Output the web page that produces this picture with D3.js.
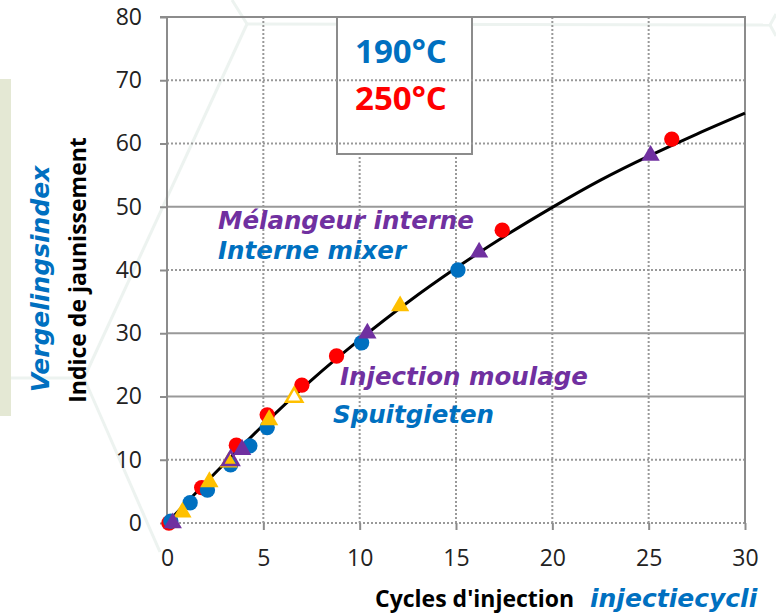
<!DOCTYPE html>
<html>
<head>
<meta charset="utf-8">
<script src="https://cdn.jsdelivr.net/npm/d3@7/dist/d3.min.js"></script>
<style>
  body { margin: 0; background: #fff; }
  svg { display: block; font-family: 'Open Sans', sans-serif; }
</style>
</head>
<body>
<svg width="776" height="616"></svg>
<script>
// trend line
const curveX = [0, 2.5, 5, 7.5, 10, 12.5, 15, 17.5, 20, 22.5, 25, 27.5, 30];
const curveY = [0, 7.9, 15.5, 22.6, 29.0, 34.9, 40.3, 45.3, 49.9, 54.2, 58.0, 61.5, 64.8];

// 250°C, circles
const redX = [0.1, 1.8, 3.6, 5.2, 7.0, 8.8, 17.4, 26.2];
const redY = [0, 5.6, 12.3, 17.1, 21.8, 26.4, 46.3, 60.7];
// 190°C, circles
const blueX = [0.2, 1.2, 2.1, 3.3, 4.3, 5.2, 10.1, 15.1];
const blueY = [0.3, 3.2, 5.2, 9.2, 12.2, 15.1, 28.5, 40.0];
// triangles
const yellowX = [0.8, 2.2, 3.2, 5.3, 12.1];
const yellowY = [1.7, 6.5, 9.6, 16.3, 34.3];
const yellowOpenX = [6.6];
const yellowOpenY = [19.9];
const purpleX = [0.3, 3.9, 10.4, 16.2, 25.1];
const purpleY = [0, 11.6, 30.0, 42.8, 58.1];
const purpleOpenX = [3.3];
const purpleOpenY = [9.9];

const xTicks = [0, 5, 10, 15, 20, 25, 30];
const yTicks = [0, 10, 20, 30, 40, 50, 60, 70, 80];
const legendLabels = ['190°C', '250°C'];

const BLUE = '#0070c0', RED = '#ff0000', PURPLE = '#7030a0', YELLOW = '#ffc000';
const GRID = '#999';
const ITALIC_FONT = "'DejaVu Sans', sans-serif";

const svg = d3.select('svg');
const x = d3.scaleLinear().domain([0, 30]).range([167, 745]);
const y = d3.scaleLinear().domain([0, 80]).range([523, 17]);

// faint slide decoration behind everything
const deco = svg.append('g')
  .attr('fill', 'none')
  .attr('stroke', '#edf3f0')
  .attr('stroke-width', 3);
[
  [[0, 378], [84, 378]],
  [[84, 378], [247, 24]],
  [[84, 378], [160, 552]],
  [[247, 24], [232, 0]],
  [[247, 24], [770, 25]],
  [[770, 25], [776, 14]],
  [[770, 25], [776, 36]]
].forEach(seg => deco.append('path').attr('d', d3.line()(seg)));

svg.append('rect')
  .attr('x', 0).attr('y', 79)
  .attr('width', 11).attr('height', 337)
  .attr('fill', '#e4e8d4');

// vertical grid
svg.append('g').selectAll('line')
  .data(xTicks.filter(d => d > 0 && d < 30))
  .enter().append('line')
  .attr('x1', d => x(d)).attr('x2', d => x(d))
  .attr('y1', y(80)).attr('y2', y(0))
  .attr('stroke', GRID).attr('stroke-width', 2)
  .attr('stroke-dasharray', '2,2');

// legend box covers vertical grid
svg.append('rect')
  .attr('x', 337).attr('y', 17)
  .attr('width', 135).attr('height', 137)
  .attr('fill', '#fff')
  .attr('stroke', '#8c8c8c').attr('stroke-width', 2);

// horizontal grid, some solid some dotted
const solidRows = [20, 30, 50];
svg.append('g').selectAll('line')
  .data(yTicks.filter(d => d < 80))
  .enter().append('line')
  .attr('x1', x(0)).attr('x2', x(30))
  .attr('y1', d => y(d)).attr('y2', d => y(d))
  .attr('stroke', GRID).attr('stroke-width', 2)
  .attr('stroke-dasharray', d => solidRows.includes(d) ? null : '2,2');

// axes
const yAxis = svg.append('g')
  .attr('transform', `translate(${x(0)},0)`)
  .call(d3.axisLeft(y).tickValues(yTicks).tickSize(7).tickPadding(18));
const xAxis = svg.append('g')
  .attr('transform', `translate(0,${y(0)})`)
  .call(d3.axisBottom(x).tickValues(xTicks).tickSize(7).tickPadding(20));
[yAxis, xAxis].forEach(g => {
  g.select('.domain').remove();
  g.selectAll('line').attr('stroke', '#8c8c8c').attr('stroke-width', 2);
  g.selectAll('text')
    .attr('fill', '#222')
    .style('font-size', '23px')
    .style('font-family', "'Open Sans', sans-serif");
});

// frame
const frame = svg.append('g').attr('stroke', '#8c8c8c').attr('stroke-width', 2);
frame.append('line').attr('x1', x(0)).attr('x2', x(0)).attr('y1', y(80) - 1).attr('y2', y(0));
frame.append('line').attr('x1', x(30)).attr('x2', x(30)).attr('y1', y(80) - 1).attr('y2', y(0));
frame.append('line').attr('x1', x(0) - 7).attr('x2', x(30) + 1).attr('y1', y(80)).attr('y2', y(80));

// trend curve
svg.append('path')
  .datum(curveX.map((d, i) => [d, curveY[i]]))
  .attr('fill', 'none')
  .attr('stroke', '#000')
  .attr('stroke-width', 3)
  .attr('d', d3.line().x(d => x(d[0])).y(d => y(d[1])).curve(d3.curveNatural));

// markers
function drawSeries(xs, ys, type, size, fill, stroke) {
  svg.append('g').selectAll('path')
    .data(xs.map((d, i) => [d, ys[i]]))
    .enter().append('path')
    .attr('transform', d => `translate(${x(d[0])},${y(d[1])})`)
    .attr('d', d3.symbol().type(type).size(size))
    .attr('fill', fill)
    .attr('stroke', stroke || 'none')
    .attr('stroke-width', 2.5);
}
drawSeries(redX, redY, d3.symbolCircle, 185, RED);
drawSeries(blueX, blueY, d3.symbolCircle, 185, BLUE);
drawSeries(yellowX, yellowY, d3.symbolTriangle, 145, YELLOW);
drawSeries(yellowOpenX, yellowOpenY, d3.symbolTriangle, 115, '#fff', YELLOW);
drawSeries(purpleX, purpleY, d3.symbolTriangle, 145, PURPLE);
drawSeries(purpleOpenX, purpleOpenY, d3.symbolTriangle, 115, 'none', PURPLE);

// annotations
const notes = [
  { t: 'Mélangeur interne', x: 218, y: 229, c: PURPLE },
  { t: 'Interne mixer', x: 218, y: 259, c: BLUE },
  { t: 'Injection moulage', x: 340, y: 385, c: PURPLE },
  { t: 'Spuitgieten', x: 333, y: 423, c: BLUE }
];
svg.append('g').selectAll('text')
  .data(notes)
  .enter().append('text')
  .attr('x', d => d.x).attr('y', d => d.y)
  .attr('fill', d => d.c)
  .style('font-family', ITALIC_FONT)
  .style('font-size', '24.5px')
  .style('font-weight', 'bold')
  .style('font-style', 'italic')
  .text(d => d.t);

// legend text
svg.append('g').selectAll('text')
  .data(legendLabels)
  .enter().append('text')
  .attr('x', 401).attr('y', (d, i) => 63 + i * 47)
  .attr('text-anchor', 'middle')
  .attr('fill', (d, i) => i === 0 ? BLUE : RED)
  .style('font-size', '33px')
  .style('font-weight', 'bold')
  .text(d => d);

// axis titles
svg.append('text')
  .attr('transform', 'translate(86,270) rotate(-90)')
  .attr('text-anchor', 'middle')
  .attr('fill', '#000')
  .style('font-size', '23px')
  .style('font-weight', 'bold')
  .text('Indice de jaunissement');
svg.append('text')
  .attr('transform', 'translate(49,279) rotate(-90)')
  .attr('text-anchor', 'middle')
  .attr('fill', BLUE)
  .style('font-family', ITALIC_FONT)
  .style('font-size', '25px')
  .style('font-weight', 'bold')
  .style('font-style', 'italic')
  .text('Vergelingsindex');
svg.append('text')
  .attr('x', 375).attr('y', 607)
  .attr('fill', '#000')
  .style('font-size', '23px')
  .style('font-weight', 'bold')
  .text("Cycles d'injection");
svg.append('text')
  .attr('x', 590).attr('y', 607)
  .attr('fill', BLUE)
  .style('font-family', ITALIC_FONT)
  .style('font-size', '25px')
  .style('font-weight', 'bold')
  .style('font-style', 'italic')
  .text('injectiecycli');
</script>
</body>
</html>
